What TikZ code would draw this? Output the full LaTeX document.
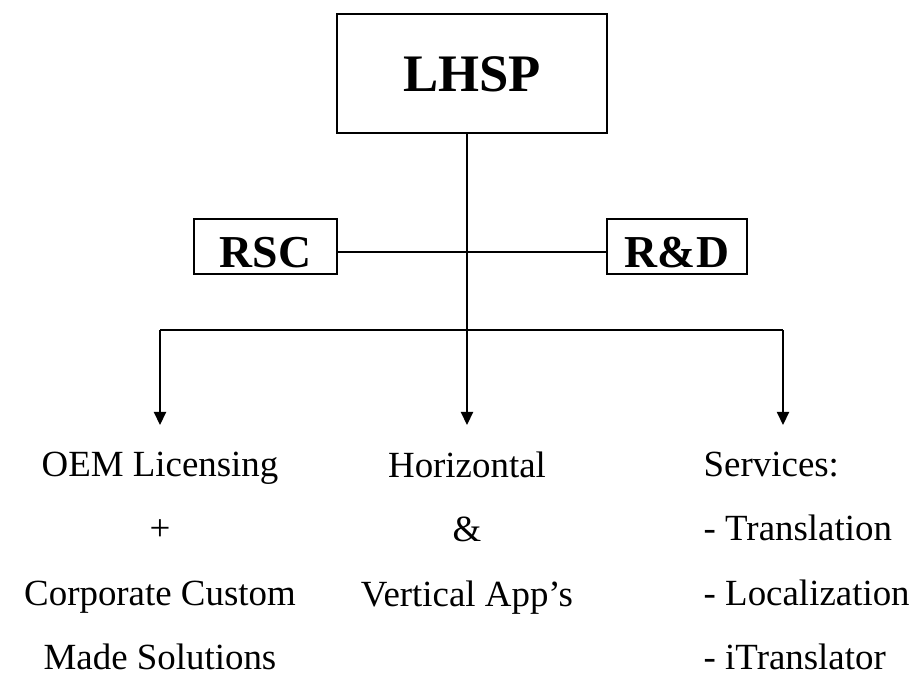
\documentclass[tikz,border=0pt]{standalone}
\usepackage{fontspec}
\setmainfont{Liberation Serif}
\usetikzlibrary{arrows.meta, positioning}

\begin{document}
\begin{tikzpicture}[
            x = 0.02cm, y = -0.02cm, % one unit per pixel, y going down
            > = {Triangle[length=7.5pt, width=7pt]}, % arrow head style
            line width = 0.8pt % line style
        ]

        \tikzstyle{unit}=[
            draw = black,
            line width = 1.1pt,
            fill = white,
            inner sep = 0pt,
            text height = 0.84cm, % text sits a bit low in the box
            text depth = 0pt,
            font = \bfseries\fontsize{26}{30}\selectfont
        ]
        \tikzstyle{product}=[
            inner sep = 0pt,
            font = \fontsize{21}{36.7}\selectfont
        ]

        \useasboundingbox (0,0) rectangle (922,677);

        \node[unit, minimum width = 5.4cm, minimum height = 2.38cm, text height = 0.72cm,
              font = \bfseries\fontsize{30}{34}\selectfont] (lhsp) at (472,73.5) {LHSP};
        \node[unit, minimum width = 2.86cm, minimum height = 1.1cm] (rsc) at (265.5,246.5) {RSC};
        \node[unit, minimum width = 2.8cm, minimum height = 1.1cm] (rd) at (677,246.5) {R\&D};

        \coordinate (mid) at (467,252);
        \coordinate (fork) at (467,330);
        \coordinate (fl) at (160,330);
        \coordinate (fr) at (783,330);
        \coordinate (tl) at (160,425);
        \coordinate (tm) at (467,425);
        \coordinate (tr) at (783,425);

        \node[product, align=center, below=0.52cm of tl] (oem)
            {OEM Licensing\\+\\Corporate Custom\\Made Solutions};
        \node[product, align=center, below=0.52cm of tm] (apps)
            {Horizontal\\\&\\Vertical App's};
        \node[product, align=left, below right=0.52cm and -1.6cm of tr] (serv)
            {Services:\\- Translation\\- Localization\\- iTranslator};

        \draw (lhsp.south -| fork) -- (fork);
        \draw (rsc.east |- mid) -- (rd.west |- mid);
        \draw (fl) -- (fr);
        \draw[->] (fl) -- (tl);
        \draw[->] (fork) -- (tm);
        \draw[->] (fr) -- (tr);

  \end{tikzpicture}
\end{document}
